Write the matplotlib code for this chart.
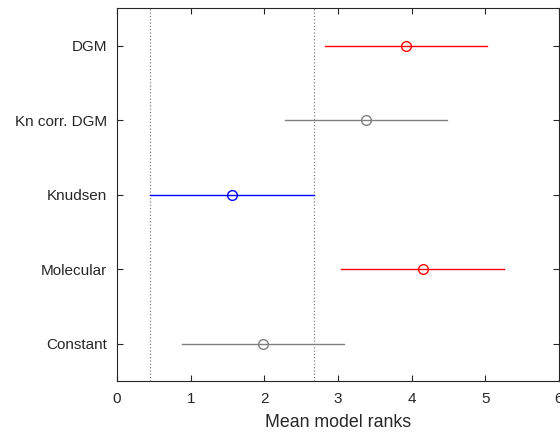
import numpy as np
import matplotlib.pyplot as plt

plt.rcParams['font.family'] = ['Liberation Sans', 'DejaVu Sans']

groups = ['Constant', 'Molecular', 'Knudsen', 'Kn corr. DGM', 'DGM']
means = np.array([1.98, 4.15, 1.56, 3.38, 3.93])
halfw = np.array([1.10, 1.11, 1.11, 1.10, 1.10])
colors = ['#808080', '#ff0000', '#0000ff', '#808080', '#ff0000']
ref = 2  # index of the selected group (Knudsen)

fig = plt.figure(figsize=(5.6, 4.34), dpi=100)
ax = fig.add_axes([0.209, 0.122, 0.789, 0.859])

ypos = np.arange(1, len(groups) + 1)
for y, m, h, c in zip(ypos, means, halfw, colors):
    ax.plot([m - h, m + h], [y, y], '-', color=c, lw=1.0)
    ax.plot(m, y, 'o', mfc='none', mec=c, ms=7, mew=1.0)

# comparison interval of the selected group
for xv in (means[ref] - halfw[ref], means[ref] + halfw[ref]):
    ax.axvline(xv, color='#808080', ls=':', lw=0.9, zorder=0)

ax.set_xlim(0, 6)
ax.set_ylim(0.5, len(groups) + 0.5)
ax.set_yticks(ypos)
ax.set_yticklabels(groups)
ax.set_xticks(range(7))
ax.set_xlabel('Mean model ranks', fontsize=12.8, color='#262626', labelpad=6)

for s in ax.spines.values():
    s.set_color('#262626')
    s.set_linewidth(0.8)
ax.tick_params(direction='in', top=True, right=True, length=4, width=0.8,
               colors='#262626', labelsize=11)
ax.tick_params(axis='y', pad=7.2)
ax.tick_params(axis='x', pad=8)

fig.savefig('out.png', dpi=100)
